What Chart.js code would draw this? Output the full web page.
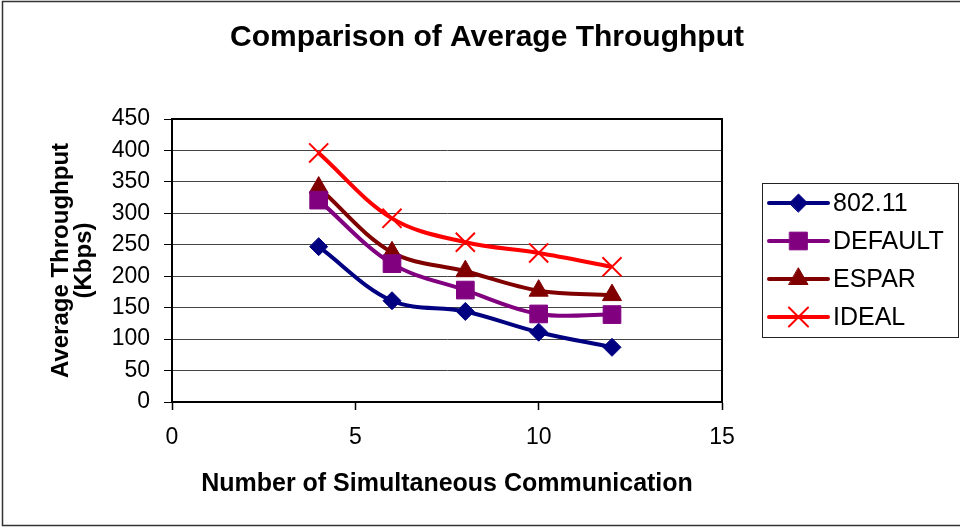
<!DOCTYPE html>
<html>
<head>
<meta charset="utf-8">
<script src="https://cdn.jsdelivr.net/npm/chart.js@4.4.1/dist/chart.umd.min.js"></script>
<style>
  body { margin: 0; background: #fff; }
  #wrap { width: 960px; height: 527px; position: relative; }
</style>
</head>
<body>
<div id="wrap"><canvas id="throughput_chart"></canvas></div>
<script>
// values
var xValues = [4, 6, 8, 10, 12];
var seriesNames = ['802.11', 'DEFAULT', 'ESPAR', 'IDEAL'];
var values80211 = [247, 161, 144, 111, 87];
var valuesDefault = [321, 220, 178, 140, 139];
var valuesEspar = [341, 238, 208, 177, 170];
var valuesIdeal = [396, 292, 254, 237, 215];
var xTicks = [0, 5, 10, 15];
var yTicks = [0, 50, 100, 150, 200, 250, 300, 350, 400, 450];

var FONT = "'Liberation Sans', Arial, sans-serif";

function toPoints(ys) {
    return xValues.map(function(x, i) {
        return { x: x, y: ys[i] };
    });
}

function makeSeries(name, ys, color, style, radius, bw) {
    return {
        label: name,
        data: toPoints(ys),
        borderColor: color,
        backgroundColor: color,
        borderWidth: 4,
        tension: 0.35,
        pointStyle: style,
        pointRadius: radius,
        pointBackgroundColor: color,
        pointBorderColor: color,
        pointBorderWidth: bw
    };
}

var datasets = [
    makeSeries(seriesNames[0], values80211, '#000080', 'rectRot', 9, 1),
    makeSeries(seriesNames[1], valuesDefault, '#800080', 'rect', 12.5, 1),
    makeSeries(seriesNames[2], valuesEspar, '#800000', 'triangle', 11, 1),
    makeSeries(seriesNames[3], valuesIdeal, '#FF0000', 'crossRot', 13.5, 2)
];

// title, legend and frames drawn by hand (Excel look)
var framePlugin = {
    id: 'excelFrame',
    afterDraw: function(chart) {
        var ctx = chart.ctx;
        var area = chart.chartArea;
        ctx.save();

        // outer border of the picture
        ctx.strokeStyle = '#333';
        ctx.lineWidth = 1.5;
        ctx.strokeRect(2.5, 1.5, 970, 524);

        // plot area border (top and right)
        ctx.strokeStyle = '#000';
        ctx.lineWidth = 2;
        ctx.beginPath();
        ctx.moveTo(area.left, area.top);
        ctx.lineTo(area.right, area.top);
        ctx.lineTo(area.right, area.bottom);
        ctx.stroke();

        // title
        ctx.fillStyle = '#000';
        ctx.font = 'bold 30px ' + FONT;
        ctx.textAlign = 'center';
        ctx.textBaseline = 'middle';
        ctx.fillText('Comparison of Average Throughput', 487, 38);

        // legend box
        ctx.strokeStyle = '#222';
        ctx.lineWidth = 1;
        ctx.strokeRect(762.5, 183.5, 196, 154);

        ctx.font = '25px ' + FONT;
        ctx.textAlign = 'left';
        chart.data.datasets.forEach(function(ds, i) {
            var y = 203 + i * 38;
            ctx.strokeStyle = ds.borderColor;
            ctx.lineWidth = 4;
            ctx.lineCap = 'round';
            ctx.beginPath();
            ctx.moveTo(769, y);
            ctx.lineTo(828, y);
            ctx.stroke();

            ctx.fillStyle = ds.pointBackgroundColor;
            ctx.strokeStyle = ds.pointBorderColor;
            ctx.lineWidth = ds.pointBorderWidth;
            Chart.helpers.drawPoint(ctx, {
                pointStyle: ds.pointStyle,
                radius: ds.pointRadius,
                rotation: 0,
                borderWidth: ds.pointBorderWidth
            }, 798.5, y);

            ctx.fillStyle = '#000';
            ctx.fillText(ds.label, 833, y + 1);
        });

        ctx.restore();
    }
};

var throughputChart = new Chart(document.getElementById('throughput_chart').getContext('2d'), {
    type: 'line',
    data: { datasets: datasets },
    options: {
        responsive: true,
        maintainAspectRatio: false,
        animation: false,
        events: [],
        layout: {
            padding: { left: 0, top: 119, right: 238, bottom: 0 }
        },
        plugins: {
            legend: { display: false },
            title: { display: false },
            tooltip: { enabled: false }
        },
        scales: {
            x: {
                type: 'linear',
                min: 0,
                max: 15,
                afterBuildTicks: function(scale) {
                    scale.ticks = xTicks.map(function(v) { return { value: v }; });
                },
                afterFit: function(scale) {
                    scale.height = 125;
                },
                grid: {
                    drawOnChartArea: false,
                    drawTicks: true,
                    tickLength: 8,
                    tickColor: '#000',
                    tickWidth: 1.5
                },
                border: { color: '#000', width: 2 },
                ticks: {
                    padding: 14,
                    color: '#000',
                    font: { family: FONT, size: 23 },
                    maxRotation: 0
                },
                title: {
                    display: true,
                    text: 'Number of Simultaneous Communication',
                    color: '#000',
                    font: { family: FONT, size: 25, weight: 'bold' },
                    padding: { top: 0, bottom: 28 }
                }
            },
            y: {
                min: 0,
                max: 450,
                afterBuildTicks: function(scale) {
                    scale.ticks = yTicks.map(function(v) { return { value: v }; });
                },
                afterFit: function(scale) {
                    scale.width = 172;
                },
                grid: {
                    color: '#444',
                    lineWidth: 1,
                    drawTicks: true,
                    tickLength: 8,
                    tickColor: '#000'
                },
                border: { color: '#000', width: 2 },
                ticks: {
                    padding: 14,
                    color: '#000',
                    font: { family: FONT, size: 23 }
                },
                title: {
                    display: true,
                    text: ['Average Throughput', '(Kbps)'],
                    color: '#000',
                    font: { family: FONT, size: 24, weight: 'bold', lineHeight: 0.96 },
                    padding: { top: 50, bottom: 0 }
                }
            }
        }
    },
    plugins: [framePlugin]
});
</script>
</body>
</html>
